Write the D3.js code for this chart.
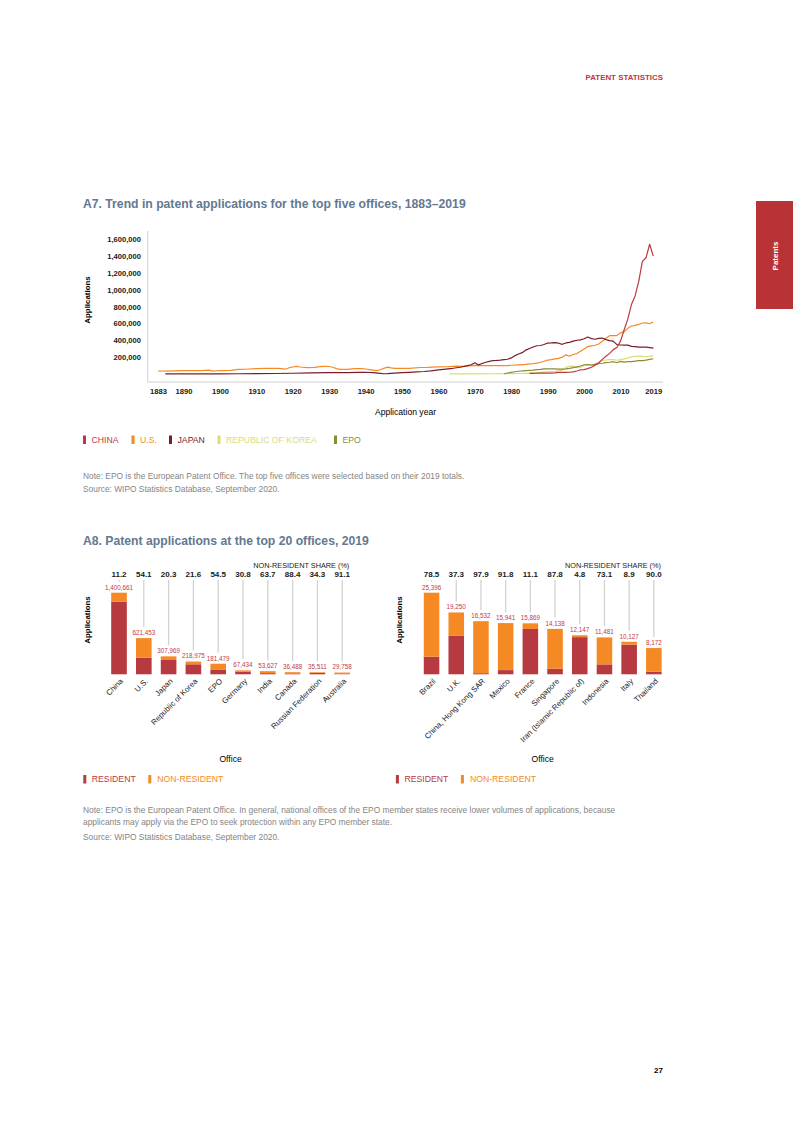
<!DOCTYPE html>
<html>
<head>
<meta charset="utf-8">
<script src="https://cdn.jsdelivr.net/npm/d3@7/dist/d3.min.js"></script>
<style>
  body { margin: 0; background: #fff; }
  svg { display: block; font-family: "Liberation Sans", Arial, sans-serif; }
</style>
</head>
<body>
<script>
// A7 series, [year, applications]
var chinaSeries = [[1985,8558],[1986,8009],[1987,9411],[1988,11947],[1989,9656],[1990,10137],[1991,11423],[1992,14409],[1993,19618],[1994,19067],[1995,18699],[1996,20671],[1997,24774],[1998,35960],[1999,49920],[2000,51906],[2001,63204],[2002,80232],[2003,105318],[2004,130384],[2005,173327],[2006,210490],[2007,245161],[2008,289838],[2009,314573],[2010,391177],[2011,526412],[2012,652777],[2013,825136],[2014,928177],[2015,1101864],[2016,1338503],[2017,1381594],[2018,1542002],[2019,1400661]]
var usSeries = [[1883,35600],[1886,35200],[1889,40000],[1890,41000],[1893,39000],[1895,40000],[1897,45600],[1898,33900],[1899,38900],[1900,39700],[1903,43800],[1905,54000],[1907,56600],[1910,63300],[1913,68100],[1916,67400],[1918,56900],[1919,75000],[1920,82900],[1921,90000],[1922,83000],[1924,76000],[1926,78000],[1928,90000],[1929,91000],[1930,89000],[1931,80000],[1932,64400],[1933,54400],[1935,56000],[1937,63500],[1939,63000],[1940,59500],[1941,52600],[1942,46300],[1943,40000],[1944,50700],[1945,66900],[1946,81100],[1947,72700],[1948,67700],[1950,67300],[1952,66300],[1955,77300],[1957,78000],[1960,84000],[1962,86000],[1965,94700],[1967,90000],[1970,102000],[1972,99300],[1975,100000],[1977,101000],[1979,100000],[1980,104000],[1982,109000],[1984,115000],[1985,120000],[1986,124000],[1987,130000],[1988,140000],[1989,152000],[1990,164000],[1991,170000],[1992,180000],[1993,186000],[1994,200000],[1995,228000],[1996,211000],[1997,232000],[1998,243000],[1999,271000],[2000,296000],[2001,326000],[2002,334000],[2003,342000],[2004,357000],[2005,390000],[2006,425000],[2007,456000],[2008,456000],[2009,456000],[2010,490000],[2011,503000],[2012,543000],[2013,571000],[2014,579000],[2015,589000],[2016,606000],[2017,607000],[2018,597000],[2019,621453]]
var japanSeries = [[1885,400],[1890,1300],[1895,1300],[1900,2000],[1905,3000],[1910,5300],[1915,6000],[1920,9000],[1925,13000],[1930,16000],[1935,17000],[1938,19000],[1940,21000],[1942,17000],[1944,8000],[1945,3000],[1946,5000],[1948,11000],[1950,16000],[1952,20000],[1954,25000],[1956,30000],[1958,38000],[1960,48000],[1962,58000],[1964,68000],[1966,80000],[1968,100000],[1969,110000],[1970,133000],[1971,108000],[1972,125000],[1973,140000],[1974,150000],[1975,160000],[1976,162000],[1977,165000],[1978,170000],[1979,175000],[1980,191000],[1981,218000],[1982,237000],[1983,254000],[1984,284000],[1985,303000],[1986,321000],[1987,336000],[1988,339000],[1989,351000],[1990,368000],[1991,369000],[1992,372000],[1993,366000],[1994,353000],[1995,369000],[1996,376000],[1997,391000],[1998,401000],[1999,405000],[2000,419543],[2001,439175],[2002,421044],[2003,413092],[2004,423081],[2005,427078],[2006,408674],[2007,396291],[2008,391002],[2009,348596],[2010,344598],[2011,342610],[2012,342796],[2013,328436],[2014,325989],[2015,318721],[2016,318381],[2017,318479],[2018,313567],[2019,307969]]
var koreaSeries = [[1963,1500],[1965,1700],[1970,1850],[1975,2900],[1978,4000],[1980,5070],[1982,5900],[1984,8600],[1985,10600],[1986,12800],[1987,17000],[1988,20000],[1989,23000],[1990,25800],[1991,28100],[1992,31100],[1993,37700],[1994,45700],[1995,78500],[1996,90300],[1997,92700],[1998,75200],[1999,80600],[2000,102000],[2001,104600],[2002,106100],[2003,118700],[2004,140100],[2005,160900],[2006,166200],[2007,172500],[2008,170600],[2009,163500],[2010,170100],[2011,178900],[2012,188900],[2013,204600],[2014,210300],[2015,213700],[2016,208800],[2017,204800],[2018,210000],[2019,218975]]
var epoSeries = [[1978,3000],[1979,12000],[1980,20000],[1981,27000],[1982,33000],[1983,36000],[1984,40000],[1985,43000],[1986,46000],[1987,51000],[1988,55000],[1989,60000],[1990,62000],[1991,60000],[1992,62000],[1993,59000],[1994,57000],[1995,60000],[1996,66000],[1997,75000],[1998,85000],[1999,95000],[2000,110000],[2001,111000],[2002,107000],[2003,115000],[2004,122000],[2005,128000],[2006,135000],[2007,140000],[2008,146000],[2009,134000],[2010,150000],[2011,142000],[2012,148000],[2013,148000],[2014,152000],[2015,160000],[2016,159000],[2017,166000],[2018,174000],[2019,181479]]

var lineNames = ["CHINA", "U.S.", "JAPAN", "REPUBLIC OF KOREA", "EPO"]
var lineColors = ["#bb3a41", "#f58a24", "#7b1c26", "#dcdc74", "#8c8c34"]
var yTicks = [200000, 400000, 600000, 800000, 1000000, 1200000, 1400000, 1600000]
var xTicks = [1883, 1890, 1900, 1910, 1920, 1930, 1940, 1950, 1960, 1970, 1980, 1990, 2000, 2010, 2019]

// A8 data
var leftOffices = ["China", "U.S.", "Japan", "Republic of Korea", "EPO", "Germany", "India", "Canada", "Russian Federation", "Australia"]
var leftTotals = [1400661, 621453, 307969, 218975, 181479, 67434, 53627, 36488, 35511, 29758]
var leftShares = [11.2, 54.1, 20.3, 21.6, 54.5, 30.8, 63.7, 88.4, 34.3, 91.1]
var rightOffices = ["Brazil", "U.K.", "China, Hong Kong SAR", "Mexico", "France", "Singapore", "Iran (Islamic Republic of)", "Indonesia", "Italy", "Thailand"]
var rightTotals = [25396, 19250, 16532, 15941, 15869, 14138, 12147, 11481, 10127, 8172]
var rightShares = [78.5, 37.3, 97.9, 91.8, 11.1, 87.8, 4.8, 73.1, 8.9, 90.0]

var residentColor = "#b73a40"
var nonResidentColor = "#f58a24"
var titleColor = "#62798f"
var noteColor = "#858585"
var noteSize = "8.4px"

var svg = d3.select("body").append("svg")
    .attr("width", 793)
    .attr("height", 1122)

// page furniture
svg.append("text")
    .attr("x", 663).attr("y", 79.5)
    .attr("text-anchor", "end")
    .style("font-size", "7.9px").style("font-weight", "bold")
    .attr("fill", "#c0363f")
    .text("PATENT STATISTICS")

svg.append("rect")
    .attr("x", 756).attr("y", 201).attr("width", 37).attr("height", 108)
    .attr("fill", "#b93236")
svg.append("text")
    .attr("transform", "translate(778,256) rotate(-90)")
    .attr("text-anchor", "middle")
    .style("font-size", "8px").style("font-weight", "bold")
    .attr("fill", "#fff")
    .text("Patents")

svg.append("text")
    .attr("x", 663).attr("y", 1073)
    .attr("text-anchor", "end")
    .style("font-size", "8px").style("font-weight", "bold")
    .text("27")

// ---------- A7 line chart ----------
svg.append("text")
    .attr("x", 83).attr("y", 208)
    .style("font-size", "12.2px").style("font-weight", "bold")
    .attr("fill", titleColor)
    .text("A7. Trend in patent applications for the top five offices, 1883–2019")

var x7 = d3.scaleLinear().domain([1883, 2019]).range([158, 653.3])
var y7 = d3.scaleLinear().domain([0, 1600000]).range([374, 239.4])

svg.append("line")
    .attr("x1", 147.7).attr("y1", 231).attr("x2", 147.7).attr("y2", 382)
    .attr("stroke", "#cfcfcf").attr("stroke-width", 1)
svg.append("line")
    .attr("x1", 147.7).attr("y1", 382).attr("x2", 663).attr("y2", 382)
    .attr("stroke", "#cfcfcf").attr("stroke-width", 1)

var yAxis = svg.append("g")
    .attr("transform", "translate(141,0)")
    .call(d3.axisLeft(y7).tickValues(yTicks).tickSize(0).tickPadding(0).tickFormat(d3.format(",")))
yAxis.select(".domain").remove()
yAxis.selectAll("text").style("font-size", "7.6px").style("font-weight", "bold")
    .attr("fill", "#1a1a1a")

var xAxis = svg.append("g")
    .attr("transform", "translate(0,388.5)")
    .call(d3.axisBottom(x7).tickValues(xTicks).tickSize(0).tickPadding(0).tickFormat(d3.format("d")))
xAxis.select(".domain").remove()
xAxis.selectAll("text").style("font-size", "7.6px").style("font-weight", "bold")
    .attr("fill", "#1a1a1a")
svg.selectAll("g").attr("font-family", null)

svg.append("text")
    .attr("transform", "translate(90,300) rotate(-90)")
    .attr("text-anchor", "middle")
    .style("font-size", "7.9px").style("font-weight", "bold")
    .text("Applications")
svg.append("text")
    .attr("x", 405.5).attr("y", 414.5)
    .attr("text-anchor", "middle")
    .style("font-size", "8.6px")
    .text("Application year")

var line7 = d3.line()
    .x(function(d) { return x7(d[0]) })
    .y(function(d) { return y7(d[1]) })

var drawOrder = [3, 4, 1, 2, 0]
var allSeries = [chinaSeries, usSeries, japanSeries, koreaSeries, epoSeries]
drawOrder.forEach(function(i) {
  svg.append("path")
      .datum(allSeries[i])
      .attr("d", line7)
      .attr("fill", "none")
      .attr("stroke", lineColors[i])
      .attr("stroke-width", 1.2)
      .attr("stroke-linejoin", "round")
})

// legend
var legendX = [83, 131.5, 169, 217.5, 334]
lineNames.forEach(function(name, i) {
  svg.append("rect")
      .attr("x", legendX[i]).attr("y", 435.5).attr("width", 3).attr("height", 8.5)
      .attr("fill", lineColors[i])
  svg.append("text")
      .attr("x", legendX[i] + 8.5).attr("y", 442.8)
      .style("font-size", "8.7px")
      .attr("fill", lineColors[i])
      .text(name)
})

svg.append("text")
    .attr("x", 83).attr("y", 478.5)
    .style("font-size", noteSize).attr("fill", noteColor)
    .text("Note: EPO is the European Patent Office. The top five offices were selected based on their 2019 totals.")
svg.append("text")
    .attr("x", 83).attr("y", 492)
    .style("font-size", noteSize).attr("fill", noteColor)
    .text("Source: WIPO Statistics Database, September 2020.")

// ---------- A8 bar charts ----------
svg.append("text")
    .attr("x", 83).attr("y", 544.5)
    .style("font-size", "12.2px").style("font-weight", "bold")
    .attr("fill", titleColor)
    .text("A8. Patent applications at the top 20 offices, 2019")

var makeBars = function(offices, totals, shares, left, right, axisLabelX) {
  var x = d3.scaleBand()
      .domain(offices)
      .range([left, right])
      .paddingInner(0.37)
      .paddingOuter(0.185)
  var y = d3.scaleLinear()
      .domain([0, d3.max(totals)])
      .range([674.3, 592.7])

  var rows = offices.map(function(o, i) {
    return {office: o, total: totals[i], share: shares[i], resident: totals[i] * (1 - shares[i] / 100)}
  })

  var g = svg.append("g")

  g.append("text")
      .attr("x", right - 5.3).attr("y", 567.5)
      .attr("text-anchor", "end")
      .style("font-size", "7.3px")
      .attr("fill", "#1a1a1a")
      .text("NON-RESIDENT SHARE (%)")

  // leader lines from share figure to value label
  g.selectAll(".lead")
    .data(rows)
  .enter().append("line")
    .attr("class", "lead")
    .attr("x1", function(d) { return x(d.office) + x.bandwidth() / 2 })
    .attr("x2", function(d) { return x(d.office) + x.bandwidth() / 2 })
    .attr("y1", 580)
    .attr("y2", function(d) { return Math.max(580, y(d.total) - 11) })
    .attr("stroke", "#d3d3d3")
    .attr("stroke-width", 1.3)

  g.selectAll(".share")
    .data(rows)
  .enter().append("text")
    .attr("x", function(d) { return x(d.office) + x.bandwidth() / 2 })
    .attr("y", 577.3)
    .attr("text-anchor", "middle")
    .style("font-size", "8px").style("font-weight", "bold")
    .attr("fill", "#1a1a1a")
    .text(function(d) { return d.share.toFixed(1) })

  g.selectAll(".res")
    .data(rows)
  .enter().append("rect")
    .attr("x", function(d) { return x(d.office) })
    .attr("width", x.bandwidth())
    .attr("y", function(d) { return y(d.resident) })
    .attr("height", function(d) { return y(0) - y(d.resident) })
    .attr("fill", residentColor)

  g.selectAll(".nonres")
    .data(rows)
  .enter().append("rect")
    .attr("x", function(d) { return x(d.office) })
    .attr("width", x.bandwidth())
    .attr("y", function(d) { return y(d.total) })
    .attr("height", function(d) { return y(d.resident) - y(d.total) })
    .attr("fill", nonResidentColor)

  g.selectAll(".val")
    .data(rows)
  .enter().append("text")
    .attr("x", function(d) { return x(d.office) + x.bandwidth() / 2 })
    .attr("y", function(d) { return y(d.total) - 3.2 })
    .attr("text-anchor", "middle")
    .style("font-size", "6.3px")
    .attr("fill", "#c13a47")
    .text(function(d) { return d3.format(",")(d.total) })

  g.selectAll(".cat")
    .data(rows)
  .enter().append("text")
    .attr("transform", function(d) {
      return "translate(" + (x(d.office) + x.bandwidth() / 2 + 3) + ",680) rotate(-45)" })
    .attr("text-anchor", "end")
    .attr("dy", "0.3em")
    .style("font-size", "7.8px")
    .attr("fill", "#1a1a1a")
    .text(function(d) { return d.office })

  g.append("text")
      .attr("x", (left + right) / 2).attr("y", 762)
      .attr("text-anchor", "middle")
      .style("font-size", "8.6px")
      .text("Office")

  g.append("text")
      .attr("transform", "translate(" + axisLabelX + ",620) rotate(-90)")
      .attr("text-anchor", "middle")
      .style("font-size", "7.9px")
      .style("font-weight", "bold")
      .text("Applications")

  // legend
  var lx = left - 23.3
  g.append("rect").attr("x", lx).attr("y", 775).attr("width", 3).attr("height", 8.5).attr("fill", residentColor)
  g.append("text").attr("x", lx + 8.5).attr("y", 782.3).style("font-size", "8.7px").attr("fill", residentColor).text("RESIDENT")
  g.append("rect").attr("x", lx + 65).attr("y", 775).attr("width", 3).attr("height", 8.5).attr("fill", nonResidentColor)
  g.append("text").attr("x", lx + 74).attr("y", 782.3).style("font-size", "8.7px").attr("fill", nonResidentColor).text("NON-RESIDENT")
}

makeBars(leftOffices, leftTotals, leftShares, 106.6, 354.6, 90)
makeBars(rightOffices, rightTotals, rightShares, 419.2, 666.2, 402)

svg.append("text")
    .attr("x", 83).attr("y", 813)
    .style("font-size", noteSize).attr("fill", noteColor)
    .text("Note: EPO is the European Patent Office. In general, national offices of the EPO member states receive lower volumes of applications, because")
svg.append("text")
    .attr("x", 83).attr("y", 825)
    .style("font-size", noteSize).attr("fill", noteColor)
    .text("applicants may apply via the EPO to seek protection within any EPO member state.")
svg.append("text")
    .attr("x", 83).attr("y", 839.5)
    .style("font-size", noteSize).attr("fill", noteColor)
    .text("Source: WIPO Statistics Database, September 2020.")
</script>
</body>
</html>
